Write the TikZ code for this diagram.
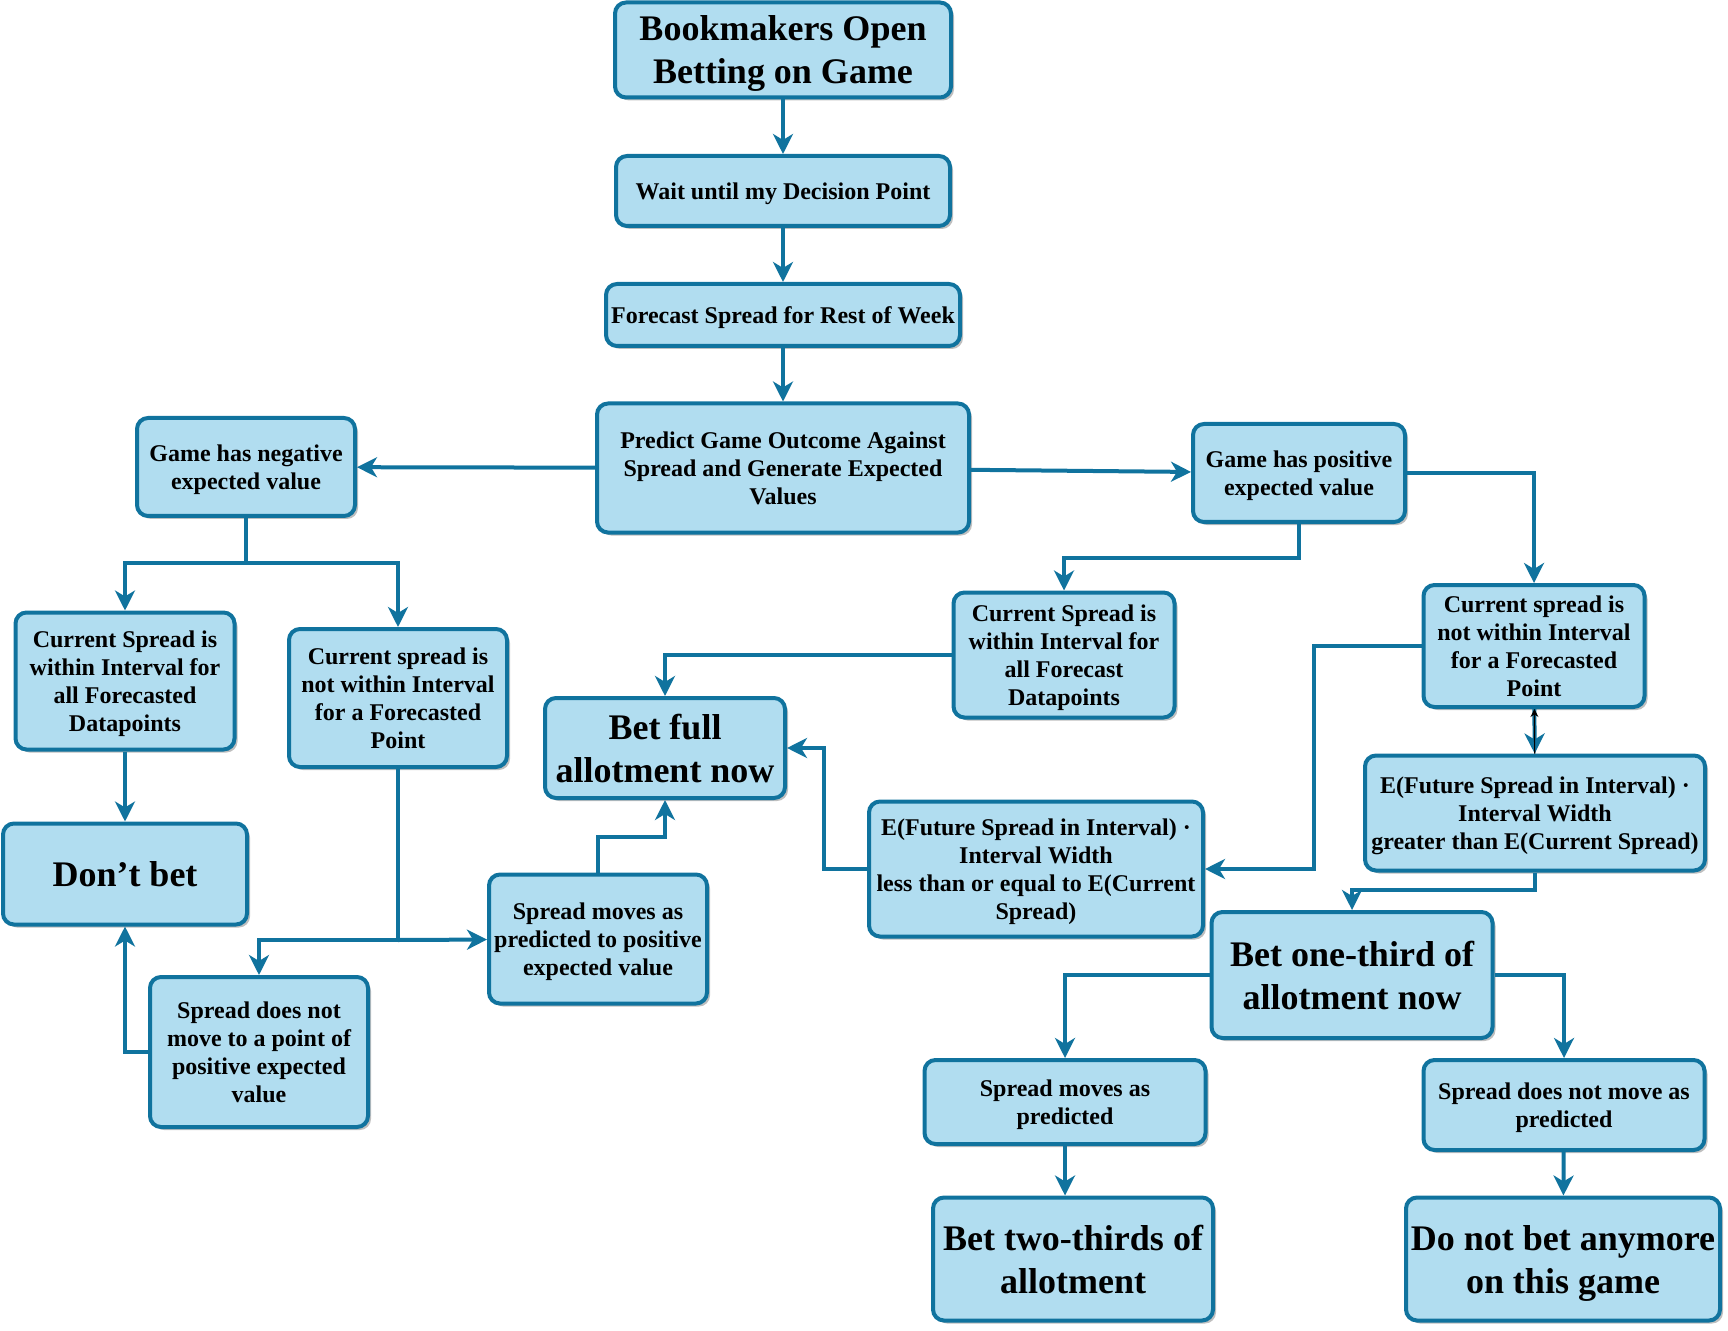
\documentclass[tikz,border=0pt]{standalone}
\usepackage{fontspec}
\setmainfont{Liberation Serif}
\usetikzlibrary{arrows.meta,shadows}
\definecolor{boxfill}{HTML}{B1DDF0}
\definecolor{boxline}{HTML}{10739E}

\begin{document}
\begin{tikzpicture}[x=0.5pt, y=-0.5pt,
    every node/.style={draw=boxline, fill=boxfill, line width=2pt, rounded corners=5.5pt,
      align=center, inner sep=2pt, font=\bfseries\fontsize{12}{14}\selectfont, text depth=-1.2pt,
      drop shadow={shadow xshift=1.5pt, shadow yshift=-1.5pt, fill=black, opacity=0.25}},
    big/.style={font=\bfseries\fontsize{18}{21.5}\selectfont, text depth=0pt},
    link/.style={draw=boxline, line width=2pt, -{Stealth[length=10pt, width=10pt, inset=3pt]}}]
    \useasboundingbox (0,0) rectangle (1728,1331);

    \node (open)  at ( 783,   50) [big, minimum width=168pt, minimum height=47.5pt] {Bookmakers Open\\Betting on Game};
    \node (wait)  at ( 783,  191) [minimum width=167pt, minimum height=35pt] {Wait until my Decision Point};
    \node (fcast) at ( 783,  315) [minimum width=177pt, minimum height=31pt] {Forecast Spread for Rest of Week};
    \node (pred)  at ( 783,  468) [minimum width=186pt, minimum height=64.5pt] {Predict Game Outcome Against\\Spread and Generate Expected\\Values};
    \node (neg)   at ( 246,  467) [minimum width=109pt, minimum height=49pt] {Game has negative\\expected value};
    \node (pos)   at (1299,  473) [minimum width=106pt, minimum height=49pt] {Game has positive\\expected value};
    \node (nin)   at ( 125,  681) [minimum width=109.5pt, minimum height=68.5pt] {Current Spread is\\within Interval for\\all Forecasted\\Datapoints};
    \node (nout)  at ( 398,  698) [minimum width=109pt, minimum height=69pt] {Current spread is\\not within Interval\\for a Forecasted\\Point};
    \node (dont)  at ( 125,  874) [big, minimum width=122pt, minimum height=50.5pt] {Don't bet};
    \node (nmv)   at ( 259, 1052) [minimum width=109pt, minimum height=75pt] {Spread does not\\move to a point of\\positive expected\\value};
    \node (mv)    at ( 598,  939) [minimum width=109pt, minimum height=64.5pt] {Spread moves as\\predicted to positive\\expected value};
    \node (full)  at ( 665,  748) [big, minimum width=120pt, minimum height=50pt] {Bet full\\allotment now};
    \node (pin)   at (1064,  655) [minimum width=110.5pt, minimum height=62.5pt] {Current Spread is\\within Interval for\\all Forecast\\Datapoints};
    \node (pout)  at (1534,  646) [minimum width=110.5pt, minimum height=61pt] {Current spread is\\not within Interval\\for a Forecasted\\Point};
    \node (gt)    at (1535,  813) [minimum width=170pt, minimum height=57.5pt] {E(Future Spread in Interval) ·\\Interval Width\\greater than E(Current Spread)};
    \node (le)    at (1036,  869) [minimum width=167pt, minimum height=67.5pt] {E(Future Spread in Interval) ·\\Interval Width\\less than or equal to E(Current\\Spread)};
    \node (third) at (1352,  975) [big, minimum width=140.5pt, minimum height=63pt] {Bet one-third of\\allotment now};
    \node (pmv)   at (1065, 1102) [minimum width=140.5pt, minimum height=42pt] {Spread moves as\\predicted};
    \node (pnmv)  at (1564, 1105) [minimum width=140.5pt, minimum height=45pt] {Spread does not move as\\predicted};
    \node (two)   at (1073, 1259) [big, minimum width=140pt, minimum height=61.5pt] {Bet two-thirds of\\allotment};
    \node (stop)  at (1563, 1259) [big, minimum width=157pt, minimum height=61.5pt] {Do not bet anymore\\on this game};

    \coordinate (n1) at ( 246,  563);
    \coordinate (n2) at ( 398,  940);
    \coordinate (k1) at ( 598,  837);
    \coordinate (p1) at (1299,  558);
    \coordinate (q1) at (1314,  869);
    \coordinate (l1) at ( 824,  748);
    \coordinate (g1) at (1535,  890);

    \draw[link] (open) -- (wait);
    \draw[link] (wait) -- (fcast);
    \draw[link] (fcast) -- (pred);
    \draw[link] (pred) -- (neg);
    \draw[link] (pred) -- (pos);
    \draw[link] (neg) -- (n1) -| (nin);
    \draw[link] (n1) -| (nout);
    \draw[link] (nin) -- (dont);
    \draw[link] (nout) -- (n2) -| (nmv);
    \draw[link] (n2) -- (mv);
    \draw[link] (nmv) -| (dont);
    \draw[link] (mv) -- (k1) -| (full);
    \draw[link] (pin) -| (full);
    \draw[link] (pos) -- (p1) -| (pin);
    \draw[link] (pos) -| (pout);
    \draw[link] (pout) -- (gt);
    \draw[black, line width=0.6pt, -{Stealth[length=4pt, width=4pt]}] (gt) -- (pout);
    \draw[link] (pout) -| (q1) -- (le);
    \draw[link] (le) -| (l1) -- (full);
    \draw[link] (gt) -- (g1) -| (third);
    \draw[link] (third) -| (pmv);
    \draw[link] (third) -| (pnmv);
    \draw[link] (pmv) -- (pmv |- two.north);
    \draw[link] (pnmv) -- (stop);

\end{tikzpicture}
\end{document}
